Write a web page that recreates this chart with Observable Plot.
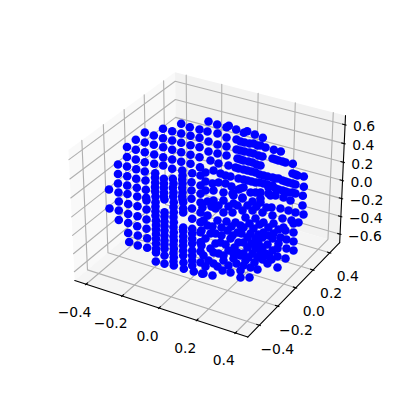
<!DOCTYPE html>
<html><head><meta charset="utf-8">
<script src="https://cdn.jsdelivr.net/npm/d3@7"></script>
<script src="https://cdn.jsdelivr.net/npm/@observablehq/plot@0.6"></script>
<style>html,body{margin:0;padding:0;background:#fff}svg{display:block}</style>
</head><body><div id="c"></div>
<script>
const xTicks=[-0.4,-0.2,0,0.2,0.4];
const yTicks=[-0.4,-0.2,0,0.2,0.4];
const zTicks=[-0.6,-0.4,-0.2,0,0.2,0.4,0.6];
const xLim=[-0.445,0.445], yLim=[-0.5,0.5], zLim=[-0.67,0.67];
// Dots (image position)
const dots=[
[108.5,189],[109,208],
[117.5,164],[117.5,173.5],[117.5,183],[118,192],[118.3,201],[118.3,210],[118.3,219.5],
[126.5,146.5],[126.5,156.5],[126.5,166],[126.7,175.7],[126.7,185],[127,193.5],[127.7,203.5],[127.7,213.5],[127.7,222.5],[127.7,232.5],[128.7,241.5],
[135.3,139.3],[135.3,149.3],[135.3,159],[135.7,168.7],[135.7,178.3],[136.3,187.3],[136.7,196],[137,205.7],[137,215.7],[136.7,225.7],[137.3,235],[137.3,245],
[144.3,132],[144.3,142],[144.3,151.7],[144.3,161.7],[144.3,171],[145,180],[145.3,189.3],[145.7,197.3],[146,200],[146,209],[146,219],[146,228.3],[146.7,237.7],[146.7,247.3],
[153.3,135],[153.3,144.3],[153.7,154],[153.7,163.3],[154.7,172.7],[154.7,182],[154.7,191],[155,201.7],[155,210.7],[155.5,220],[155.5,229],[155.5,238.3],[155.5,248.3],[155.5,252],[155.3,261],
[154.5,177],[154.5,186.5],[155,196],[155,206],[155,215],[155.5,224.5],[155.5,233.5],[155.5,243],
[162.5,128.3],[162.5,137.7],[162.7,146.7],[162.7,156.7],[162.7,165],[163.3,178.3],[163.3,187.3],[163.3,196],[164,199],[164,211.7],[164,221],[164,230],[164,240],[164,248.3],[164,255],[164,263.3],
[163.5,183],[163.5,192],[164,216],[164,225.5],[164,235],[164,244],
[171.7,130.7],[171.7,140],[171.7,149.3],[171.7,159],[171.7,168.3],[172.3,178.3],[172.3,187.3],[172.7,196],[173.3,201.7],[173.3,211.7],[173.3,221.7],[173.3,231.7],[173.3,240],[173.3,248.3],[173.3,256.7],[173.3,265],
[173,183],[173,192],[173,206.5],[173,216.5],[173,226.5],[173,236],[173,244],[173,252.5],[173,261],
[180.7,123.3],[180.7,133],[180.7,142.3],[180.7,151.7],[180.7,161.3],[181.7,170],[181.7,179],[181.7,187.3],[181.7,196],[182.7,201.7],[182.7,208],[182.7,212],[182.7,227],[182.7,235.7],[182.7,245],[182.7,255],[183,262],[183.3,268.3],
[182,175],[182,183],[182,192],[182,199],[182.7,230.5],[182.7,240.5],[182.7,250],
[189.3,126.7],[190,135.3],[190,144.7],[190,154.3],[190,163.3],[191.7,172.7],[191,181.7],[191,190],[191,198.3],[191.5,208],[191.7,218.3],[191.7,228.3],[191.7,238.3],[191.7,250],[191.7,260],[193.3,271],
[191.7,233],[191.7,243],[191.7,255],[191.7,265],
[199,129],[199,137.3],[199,146.7],[199,156.7],[199.5,166.7],[200,175],[200,185],[200,193.3],[200,202],[200,212],[200,221.7],[200,231.7],[200,241.7],[200,251],[200,262],[201.7,273.3],
[208,121],[216.7,124],[226,126.7],[228.3,125.3],[235.7,129],[243.3,132.3],[246.7,130.7],[254.3,134],[262.3,137.3],[273.3,149.3],[280.3,151],[292.3,163.3],[303.3,176],[303.3,186.3],[302.3,195.3],
[207,131],[217,133],[226,137],[236,139],[244,142],[253,143],[260,145],[265,147],
[240,141],[249,143],[257,145],
[208,141],[217,144],[226,146],[236,149],[244,151],[253,153],[262,156],
[240,150],[249,152],[258,155],
[208,151],[217,153],[226,155],[237,158],[243,160],[252,162],[260,165],[272,158],[278,160],[285,162],
[240,159],[248,161],[256,164],[275,159],[282,161],
[210,160],[218,163],[228,165],[235,167],[238,168],[247,170],[255,172],[263,175],[272,177],[278,178],[292,173],[297,175],
[243,169],[251,171],[259,174],[267,176],[275,178],[295,174],
[220,173],[225,175],[230,176],[238,178],[247,180],[255,182],[263,183],[272,185],[282,180],[288,182],[295,184],
[243,179],[251,181],[259,182],[267,184],[285,181],[292,183],
[218,182],[225,183],[231,186],[238,189],[243,187],[250,192],[260,192],[268,187],[275,188],[282,190],[288,192],[295,193],
[255,192],[278,189],[285,191],[292,192],[268,193],[275,195],[283,197],[290,200],
[233,195],[242,197],[260,198],[270,195],[205,172],[213,170],[205,181],[212,183],[205,190],[213,190],[223,192],[232,193],[240,188],
[207,201],[213,200],[223,200],[233,203],[242,198],[252,201],[260,202],[271,207],[280,208],[288,210],[295,212],[302,205],[303,214],
[207,215],[215,208],[223,212],[232,212],[242,210],[252,210],[262,212],[272,215],[282,218],[291,220],[298,222],
[207,225],[217,220],[226,221],[235,222],[245,217],[255,218],[263,222],[273,223],[283,227],[293,223],
[205,238],[215,233],[227,230],[237,232],[243,227],[253,228],[263,232],[273,233],[285,230],[293,232],
[210,248],[220,242],[230,238],[238,242],[247,237],[255,238],[262,237],[272,238],[280,237],[286,239],[293,241],
[208,260],[218,253],[228,250],[237,252],[247,247],[255,248],[262,247],[272,250],[278,243],[286,248],[293,250],
[203,273],[212,275],[222,270],[230,272],[240,277],[249,277],[257,269],[267,263],[277,267],[277,256],[285,258],
[213,263],[223,260],[233,258],[243,265],[250,267],[240,270],[257,257],[265,253],[248,257],[240,255],
[202,207],[211,206],[218,205],[228,206],[237,205],[247,205],[256,206],[266,207],
[203,220],[212,226],[221,227],[231,226],[240,225],[249,223],[259,224],[268,227],[278,229],
[201,230],[210,233],[221,235],[232,235],[241,233],[250,233],[258,234],[268,235],
[201,245],[215,243],[225,244],[234,247],[243,242],[251,243],[258,243],[267,244],[277,248],
[203,255],[213,252],[223,255],[233,253],[243,253],[252,253],[260,253],[269,256],
[205,266],[217,266],[228,265],[236,263],[245,260],[254,262],[262,259],[271,259]
];

// matplotlib default 3D view: elev 30, azim -60, dist 10, box aspect 4:4:3
const el=30*Math.PI/180, az=-60*Math.PI/180, dist=10;
const aspN=1.8294640721620434/Math.hypot(4,4,3);
const asp=[4*aspN,4*aspN,3*aspN];
const R=asp.map(a=>a/2);
const dir=[Math.cos(el)*Math.cos(az),Math.cos(el)*Math.sin(az),Math.sin(el)];
const E=R.map((r,i)=>r+dist*dir[i]);
const cross=(a,b)=>[a[1]*b[2]-a[2]*b[1],a[2]*b[0]-a[0]*b[2],a[0]*b[1]-a[1]*b[0]];
const dot=(a,b)=>a[0]*b[0]+a[1]*b[1]+a[2]*b[2];
const norm=a=>{const n=Math.hypot(...a);return a.map(v=>v/n)};
const n=norm(dir), u=norm(cross([0,0,1],n)), v=cross(n,u);
function project(x,y,z){
  const w=[(x-xLim[0])/(xLim[1]-xLim[0])*asp[0],(y-yLim[0])/(yLim[1]-yLim[0])*asp[1],(z-zLim[0])/(zLim[1]-zLim[0])*asp[2]];
  const d=w.map((c,i)=>c-E[i]);
  const depth=-dot(d,n);
  const px=dot(d,u)/depth*1, py=dot(d,v)/depth*1;
  return [51+(px+0.095)/0.185*308, 356-(py+0.095)/0.185*308];
}
const pad=l=>{const d=(l[1]-l[0])/48;return[l[0]-d,l[1]+d]};
const [x0,x1]=pad(xLim),[y0,y1]=pad(yLim),[z0,z1]=pad(zLim);
const pane=(name,c,pts)=>pts.map(p=>{const q=project(...p);return{name,c,x:q[0],y:q[1]}});
const panes=[
 ...pane("x","#f9f9f9",[[x0,y0,z0],[x0,y1,z0],[x0,y1,z1],[x0,y0,z1],[x0,y0,z0]]),
 ...pane("y","#f2f2f2",[[x0,y1,z0],[x1,y1,z0],[x1,y1,z1],[x0,y1,z1],[x0,y1,z0]]),
 ...pane("z","#f5f5f5",[[x0,y0,z0],[x1,y0,z0],[x1,y1,z0],[x0,y1,z0],[x0,y0,z0]])
];
const grid=[];
const addLine=(id,pts)=>pts.forEach(p=>{const q=project(...p);grid.push({id,x:q[0],y:q[1]})});
xTicks.forEach(t=>addLine("x"+t,[[t,y0,z0],[t,y1,z0],[t,y1,z1]]));
yTicks.forEach(t=>addLine("y"+t,[[x1,t,z0],[x0,t,z0],[x0,t,z1]]));
zTicks.forEach(t=>addLine("z"+t,[[x0,y0,t],[x0,y1,t],[x1,y1,t]]));
const axes=[];
const addAxis=(id,pts)=>pts.forEach(p=>{const q=project(...p);axes.push({id,x:q[0],y:q[1]})});
addAxis("x",[[x0,y0,z0],[x1,y0,z0]]);
addAxis("y",[[x1,y0,z0],[x1,y1,z0]]);
addAxis("z",[[x1,y1,z0],[x1,y1,z1]]);
const dY=(y1-y0)/12,dX=(x1-x0)/12;
const tickSegs=[];
xTicks.forEach(t=>{const a=project(t,y0+.2*dY,z0),b=project(t,y0-.1*dY,z0);tickSegs.push({x1:a[0],y1:a[1],x2:b[0],y2:b[1]})});
yTicks.forEach(t=>{const a=project(x1-.2*dX,t,z0),b=project(x1+.1*dX,t,z0);tickSegs.push({x1:a[0],y1:a[1],x2:b[0],y2:b[1]})});
zTicks.forEach(t=>{const a=project(x1-.2*dX,y1,t),b=project(x1+.1*dX,y1,t);tickSegs.push({x1:a[0],y1:a[1],x2:b[0],y2:b[1]})});
const fmt=t=>(t<0?"\u2212":"")+Math.abs(t).toFixed(1);
const xLab=xTicks.map(t=>{const q=project(t,y0,z0);return{x:q[0],y:q[1],t:fmt(t)}});
const yLab=yTicks.map(t=>{const q=project(x1,t,z0);return{x:q[0],y:q[1],t:fmt(t)}});
const zLab=zTicks.map(t=>{const q=project(x1,y1,t);return{x:q[0],y:q[1],t:fmt(t)}});
const chart=Plot.plot({
  width:400,height:400,margin:0,
  x:{domain:[0,400],range:[0,400],axis:null},
  y:{domain:[0,400],range:[0,400],axis:null},
  style:{background:"#fff",fontFamily:"DejaVu Sans"},
  marks:[
    Plot.line(panes,{x:"x",y:"y",z:"name",fill:"c",stroke:null,curve:"linear"}),
    Plot.line(grid,{x:"x",y:"y",z:"id",stroke:"#b0b0b0",strokeWidth:1.1,curve:"linear"}),
    Plot.line(axes,{x:"x",y:"y",z:"id",stroke:"#000",strokeWidth:1.1,curve:"linear"}),
    Plot.link(tickSegs,{x1:"x1",y1:"y1",x2:"x2",y2:"y2",stroke:"#000",strokeWidth:1.1}),
    Plot.dot(dots,{x:d=>d[0],y:d=>d[1],r:4.3,fill:"#0000ff",stroke:null}),
    Plot.text(xLab,{x:"x",y:"y",text:"t",dx:-11.5,dy:28,fill:"#000",fontSize:13.9}),
    Plot.text(yLab,{x:"x",y:"y",text:"t",dx:18,dy:24,fill:"#000",fontSize:13.9}),
    Plot.text(zLab,{x:"x",y:"y",text:"t",dx:8,dy:2,textAnchor:"start",fill:"#000",fontSize:13.9})
  ]
});
document.getElementById("c").append(chart);
</script></body></html>
